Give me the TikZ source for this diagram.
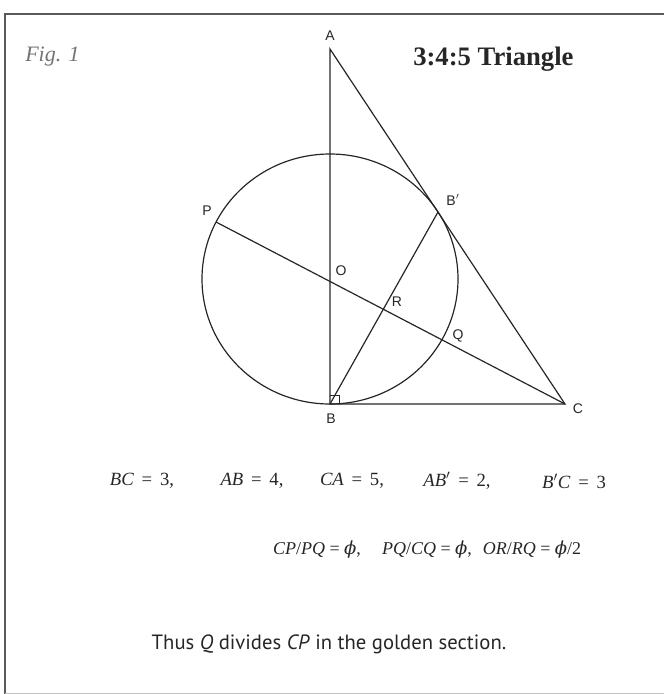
\documentclass[tikz,border=0pt]{standalone}
\usepackage{fontspec}
\setmainfont{Liberation Serif}
\newfontfamily\lblfont{Liberation Sans}
\newfontfamily\capfont{PT Sans}
\newfontfamily\phifont{DejaVu Serif}
\newcommand{\gphi}{{\phifont\itshape ϕ}}
\begin{document}
\begin{tikzpicture}[x=0.75pt,y=-0.75pt,
  geo/.style={line width=0.9pt, draw=black!85},
  ptlabel/.style={font=\lblfont\fontsize{10.5}{12}\selectfont, inner sep=0pt, text=black!85},
  eqtext/.style={font=\fontsize{14}{17}\selectfont, inner sep=0pt, text=black!85},
  frameline/.style={line width=1.8pt, draw=black!65}]
\useasboundingbox (0,0) rectangle (664,694);
% frame
\draw[frameline] (5,694) -- (5,14) -- (664,14);
\draw[line width=0.6pt, draw=black!25] (5,693) -- (664,693);
% points
\coordinate (A) at (330,49);
\coordinate (B) at (330,404);
\coordinate (C) at (565,404);
\coordinate (O) at (330,279);
\coordinate (P) at (216,222);
\coordinate (Bp) at (438,212);
% circle
\draw[geo] (O) ellipse [x radius=128, y radius=125];
% triangle
\draw[geo] (A) -- (B) -- (C) -- cycle;
% chords
\draw[geo] (P) -- (C);
\draw[geo] (B) -- (Bp);
% right angle mark
\draw[line width=0.7pt, draw=black!85] (330,395) -- (339,395) -- (339,404);
% labels
\node[ptlabel] (lA) at (330,36) {A};
\node[ptlabel] (lB) at (331,419) {B};
\node[ptlabel] (lC) at (578,409) {C};
\node[ptlabel] (lP) at (207,211) {P};
\node[ptlabel] (lO) at (341,271) {O};
\node[ptlabel] (lR) at (397,302) {R};
\node[ptlabel] (lQ) at (458,336) {Q};
\node[ptlabel] (lBp) at (453,200) {B$'$};
% titles
\node[font=\fontsize{16.5}{19}\selectfont\itshape, text=black!55, anchor=west, inner sep=0pt] (fig) at (25,57) {Fig. 1};
\node[font=\fontsize{20}{24}\selectfont\bfseries, text=black!85, anchor=west, inner sep=0pt] (title) at (413,59) {3:4:5 Triangle};
% equations line 1
\node[eqtext] (e1) at (142,481) {\textit{BC}\, = \,3,};
\node[eqtext] (e2) at (252,481) {\textit{AB}\, = \,4,};
\node[eqtext] (e3) at (352,481) {\textit{CA}\, = \,5,};
\node[eqtext] (e4) at (457,481) {\textit{AB}$'$\, = \,2,};
\node[eqtext] (e5) at (574,481) {\textit{B}$'$\textit{C}\, = \,3};
% equations line 2
\node[eqtext, font=\fontsize{13.5}{16}\selectfont] (f1) at (317,550) {\textit{CP}/\textit{PQ} = \gphi,};
\node[eqtext, font=\fontsize{13.5}{16}\selectfont] (f2) at (427,550) {\textit{PQ}/\textit{CQ} = \gphi,};
\node[eqtext, font=\fontsize{13.5}{16}\selectfont] (f3) at (532,550) {\textit{OR}/\textit{RQ} = \gphi/2};
% conclusion
\node[font=\capfont\fontsize{15.5}{18}\selectfont, text=black!85, inner sep=0pt] (concl) at (329,644) {Thus \textit{Q} divides \textit{CP} in the golden section.};
\end{tikzpicture}
\end{document}
